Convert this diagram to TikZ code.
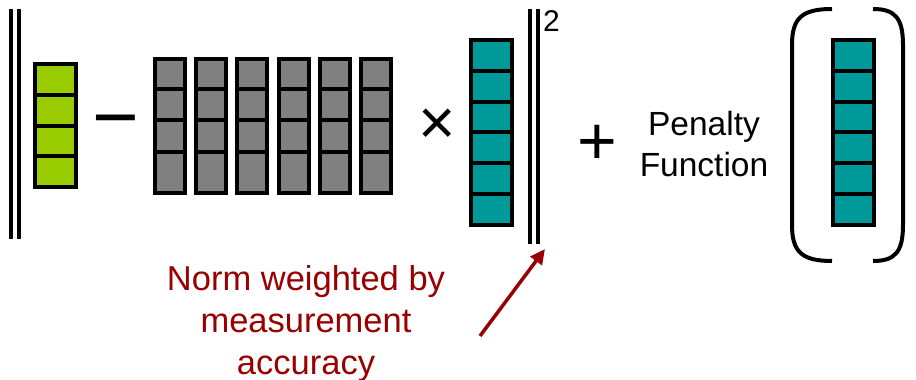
\documentclass[tikz,border=0pt]{standalone}
\usepackage{fontspec}
\setmainfont{Liberation Sans}
\usetikzlibrary{arrows.meta}
\definecolor{cgreen}{RGB}{153,204,0}
\definecolor{cgray}{RGB}{128,128,128}
\definecolor{cteal}{RGB}{0,153,153}
\definecolor{cred}{RGB}{153,0,0}
\begin{document}
\begin{tikzpicture}[x=1pt,y=-1pt,
  cell/.style={draw=black,line width=4pt},
  normbar/.style={draw=black,line width=4pt},
  bracket/.style={draw=black,line width=4pt},
  opsym/.style={inner sep=0pt,anchor=center},
  redlabel/.style={text=cred,align=center,inner sep=0pt,font=\fontsize{34.5}{42}\selectfont},
  blacklabel/.style={align=center,inner sep=0pt,font=\fontsize{33.5}{41}\selectfont},
  redarrow/.style={draw=cred,line width=3.5pt,-{Triangle[length=15pt,width=14pt]}}]
\useasboundingbox (0,0) rectangle (916,380);
% left norm bars
\draw[normbar] (11,9) -- (11,239);
\draw[normbar] (19,9) -- (19,239);
% green vector
\foreach \i in {0,1,2,3}{
  \filldraw[cell,fill=cgreen] (35,{64+30.75*\i}) rectangle (76,{64+30.75*(\i+1)});
}
% minus
\node[opsym,font=\fontsize{80}{80}\selectfont] (minus) at (115.5,130) {−};
% gray matrix
\foreach \c in {0,...,5}{
  \foreach \ya/\yb in {59/89,89/120,120/152,152/193}{
    \filldraw[cell,fill=cgray] ({155+41.2*\c},\ya) rectangle ({185+41.2*\c},\yb);
  }
}
% times
\node[opsym,font=\fontsize{64}{64}\selectfont] (times) at (437,127) {×};
% teal vector
\foreach \i in {0,...,5}{
  \filldraw[cell,fill=cteal] (471,{40+30.83*\i}) rectangle (512,{40+30.83*(\i+1)});
}
% right norm bars
\draw[normbar] (529.5,9) -- (529.5,244);
\draw[normbar] (537.5,9) -- (537.5,244);
\node[anchor=base west,inner sep=0pt,font=\fontsize{30}{30}\selectfont] (sq) at (543,31) {2};
% plus
\node[opsym,font=\fontsize{68}{68}\selectfont] (plus) at (597,145) {+};
% penalty function
\node[blacklabel,anchor=base] (pen) at (704,176) {Penalty\\Function};
% brackets
\draw[bracket] (832,9) .. controls (802,9) and (792,18) .. (792,45) -- (792,225) .. controls (792,252) and (802,261) .. (832,261);
\draw[bracket] (873,9) .. controls (895,9) and (903,18) .. (903,45) -- (903,225) .. controls (903,252) and (895,261) .. (873,261);
% teal vector in brackets
\foreach \i in {0,...,5}{
  \filldraw[cell,fill=cteal] (833,{40+30.83*\i}) rectangle (874,{40+30.83*(\i+1)});
}
% label and arrow
\node[redlabel,anchor=base] (lab) at (306,374) {Norm weighted by\\measurement\\accuracy};
\coordinate (as) at (480,336);
\coordinate (ae) at (545,249);
\draw[redarrow] (as) -- (ae);
\end{tikzpicture}
\end{document}
